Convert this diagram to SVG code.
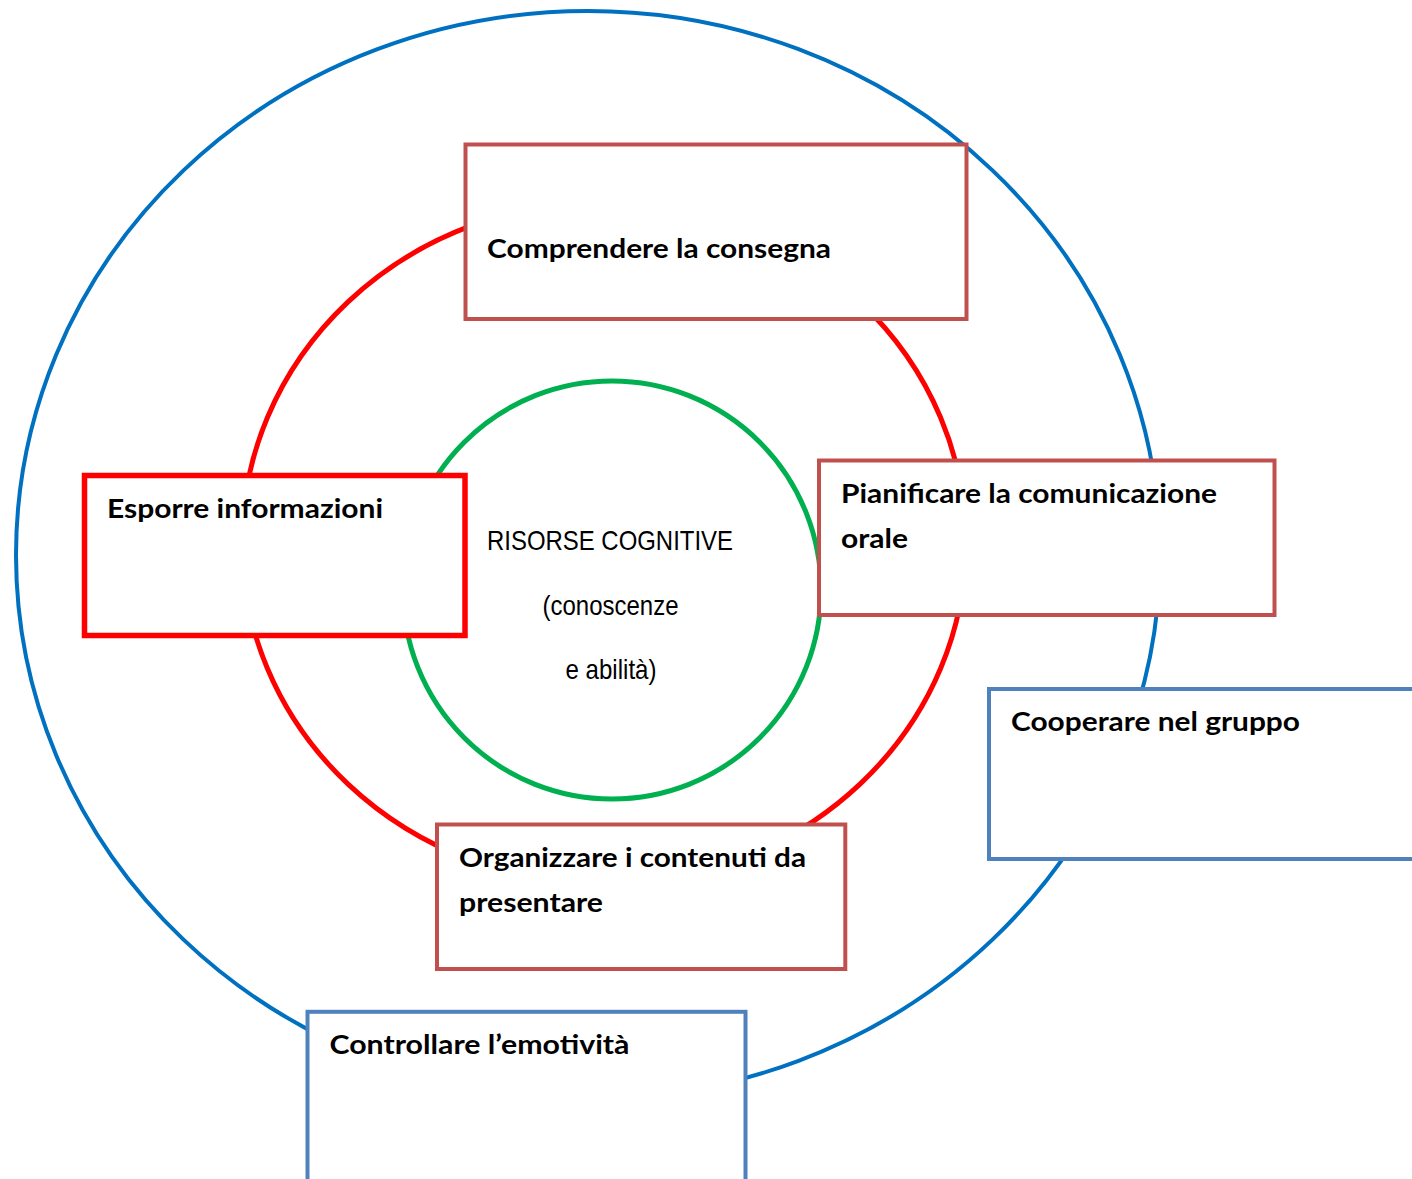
<svg xmlns="http://www.w3.org/2000/svg" width="1412" height="1179" viewBox="0 0 1412 1179">
  <style>
    .ring { fill: none; }
    .box { fill: #ffffff; stroke-width: 4; }
    .darkred { stroke: #C0504D; }
    .brightred { stroke: #FF0000; stroke-width: 5.5; }
    .steel { stroke: #4F81BD; }
    .label { font-family: Lato, "Open Sans", "Liberation Sans", sans-serif; font-weight: 700; font-size: 27.5px; fill: #000000; }
    .core { font-family: "Liberation Sans Narrow", "Liberation Sans", Arial, sans-serif; font-size: 28px; fill: #000000; text-anchor: middle; }
  </style>
  <rect x="0" y="0" width="1412" height="1179" fill="#ffffff"/>

  <g id="rings">
    <ellipse id="ring-outer" class="ring" cx="588" cy="555" rx="572" ry="544" stroke="#0070C0" stroke-width="4"/>
    <ellipse id="ring-middle" class="ring" cx="604" cy="543" rx="362" ry="341" stroke="#FF0000" stroke-width="5"/>
    <circle id="ring-inner" class="ring" cx="612" cy="590" r="209" stroke="#00B050" stroke-width="5"/>
  </g>

  <g id="connectors"></g>

  <g id="risorse-cognitive">
    <text class="core" x="610" y="550" textLength="246" lengthAdjust="spacingAndGlyphs">RISORSE COGNITIVE</text>
    <text class="core" x="610.5" y="615" textLength="136" lengthAdjust="spacingAndGlyphs">(conoscenze</text>
    <text class="core" x="611" y="679" textLength="91" lengthAdjust="spacingAndGlyphs">e abilità)</text>
  </g>

  <g id="node-comprendere">
    <rect class="box darkred" x="465.5" y="144.5" width="501" height="174.5"/>
    <text class="label" x="487" y="258" textLength="344" lengthAdjust="spacingAndGlyphs">Comprendere la consegna</text>
  </g>

  <g id="node-esporre">
    <rect class="box brightred" x="84.5" y="475.5" width="380.5" height="160"/>
    <text class="label" x="107" y="518" textLength="276" lengthAdjust="spacingAndGlyphs">Esporre informazioni</text>
  </g>

  <g id="node-pianificare">
    <rect class="box darkred" x="819" y="460.5" width="455.5" height="154.5"/>
    <text class="label" x="841" y="502.5" textLength="376" lengthAdjust="spacingAndGlyphs">Pianificare la comunicazione</text>
    <text class="label" x="841" y="547.5" textLength="67" lengthAdjust="spacingAndGlyphs">orale</text>
  </g>

  <g id="node-cooperare">
    <rect class="box steel" x="989" y="689" width="520" height="170"/>
    <text class="label" x="1011" y="731" textLength="289" lengthAdjust="spacingAndGlyphs">Cooperare nel gruppo</text>
  </g>

  <g id="node-organizzare">
    <rect class="box darkred" x="437" y="824.5" width="408.3" height="144.5"/>
    <text class="label" x="459" y="866.5" textLength="347" lengthAdjust="spacingAndGlyphs">Organizzare i contenuti da</text>
    <text class="label" x="459" y="911.5" textLength="144" lengthAdjust="spacingAndGlyphs">presentare</text>
  </g>

  <g id="node-controllare">
    <rect class="box steel" x="307.5" y="1011.8" width="438" height="250"/>
    <text class="label" x="329.5" y="1054.4" textLength="300" lengthAdjust="spacingAndGlyphs">Controllare l’emotività</text>
  </g>
</svg>
